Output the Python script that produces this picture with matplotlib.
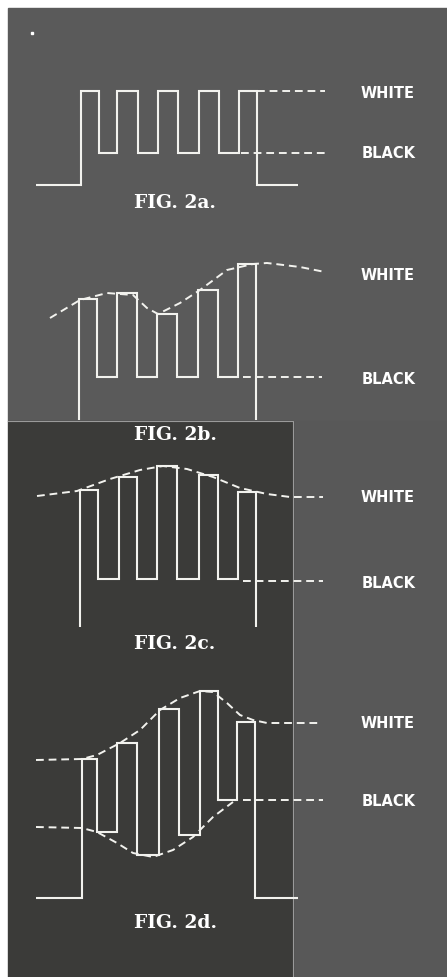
import matplotlib
matplotlib.use("Agg")
from matplotlib import pyplot as plt
from matplotlib.patches import Rectangle

# picture is 447 x 977 px, everything below is in pixel coords (y down)
W, H = 447, 977

# --- fig 2a: step edges (x) and levels (y) ---
edges_a = [36, 81, 99, 117, 138, 158, 178, 199, 219, 239, 257, 298]
levels_a = [185, 91, 153, 91, 153, 91, 153, 91, 153, 91, 185]
white_a = 91
black_a = 153

# --- fig 2b ---
edges_b = [79, 79, 97, 117, 137, 157, 177, 198, 218, 238, 256, 256]
levels_b = [420, 299, 377, 293, 377, 314, 377, 290, 377, 264, 420]
env_b_x = [50, 80, 107, 133, 147, 158, 180, 200, 227, 253, 267, 300, 325]
env_b_y = [318, 300, 293, 295, 308, 314, 303, 290, 270, 264, 263, 267, 272]
black_b = 377

# --- fig 2c ---
edges_c = [80, 80, 98, 119, 137, 157, 177, 199, 218, 238, 256, 256]
levels_c = [627, 490, 579, 477, 579, 466, 579, 475, 579, 492, 627]
env_c_x = [37, 77, 110, 140, 163, 187, 213, 240, 267, 290, 323]
env_c_y = [496, 491, 479, 470, 466, 469, 477, 488, 494, 497, 497]
black_c = 581

# --- fig 2d ---
edges_d = [36, 82, 97, 117, 137, 159, 179, 200, 218, 237, 255, 298]
levels_d = [898, 759, 832, 743, 855, 709, 835, 691, 800, 722, 898]
up_d_x = [36, 82, 97, 120, 140, 160, 180, 200, 213, 227, 240, 253, 267, 320]
up_d_y = [760, 759, 755, 743, 730, 710, 698, 691, 692, 703, 715, 720, 723, 723]
lo_d_x = [36, 82, 97, 117, 133, 153, 173, 193, 213, 233]
lo_d_y = [827, 828, 832, 843, 853, 857, 850, 837, 817, 802]
black_d = 800

labels_y = [(93, 154), (275, 380), (498, 584), (723, 801)]
fig_names = ["FIG. 2a.", "FIG. 2b.", "FIG. 2c.", "FIG. 2d."]
fig_y = [203, 435, 644, 923]

line_col = "#f2f2ee"
dash = (0, (4, 2.5))

fig = plt.figure(figsize=(W / 100, H / 100), dpi=100)
fig.patch.set_facecolor("white")
ax = fig.add_axes([0, 0, 1, 1])
ax.set_xlim(0, W)
ax.set_ylim(H, 0)
ax.axis("off")

# backgrounds (scanned page pieces)
ax.add_patch(Rectangle((8, 8), W - 8, 413, color="#5a5a5a", zorder=0))
ax.add_patch(Rectangle((293, 421), W - 293, H - 421, color="#585858", zorder=0))
ax.add_patch(Rectangle((8, 421), 285, H - 421, color="#3b3b39", zorder=0))
ax.plot([8, 293, 293], [421, 421, H], color="#9a9a9a", lw=0.8, zorder=1)
ax.plot([32], [33], "s", color="white", ms=2, zorder=1)

kw = dict(color=line_col, lw=1.5, zorder=3)
dkw = dict(color=line_col, lw=1.4, ls=dash, zorder=3)

# fig 2a
ax.stairs(levels_a, edges_a, baseline=None, **kw)
ax.plot([257, 325], [white_a, white_a], **dkw)
ax.plot([241, 325], [black_a, black_a], **dkw)

# fig 2b
ax.stairs(levels_b, edges_b, baseline=None, **kw)
ax.plot(env_b_x, env_b_y, **dkw)
ax.plot([243, 322], [black_b, black_b], **dkw)

# fig 2c
ax.stairs(levels_c, edges_c, baseline=None, **kw)
ax.plot(env_c_x, env_c_y, **dkw)
ax.plot([243, 323], [black_c, black_c], **dkw)

# fig 2d
ax.stairs(levels_d, edges_d, baseline=None, **kw)
ax.plot(up_d_x, up_d_y, **dkw)
ax.plot(lo_d_x, lo_d_y, **dkw)
ax.plot([243, 323], [black_d, black_d], **dkw)

for (yw, yb), name, yf in zip(labels_y, fig_names, fig_y):
    ax.text(388, yw, "WHITE", color="white", fontsize=10.5, fontweight="bold",
            family="DejaVu Sans", ha="center", va="center", zorder=4)
    ax.text(389, yb, "BLACK", color="white", fontsize=10.5, fontweight="bold",
            family="DejaVu Sans", ha="center", va="center", zorder=4)
    ax.text(175, yf, name, color="white", fontsize=13.5, fontweight="bold",
            family="DejaVu Serif", ha="center", va="center", zorder=4)

fig.savefig("out.png", dpi=100, facecolor=fig.get_facecolor())
